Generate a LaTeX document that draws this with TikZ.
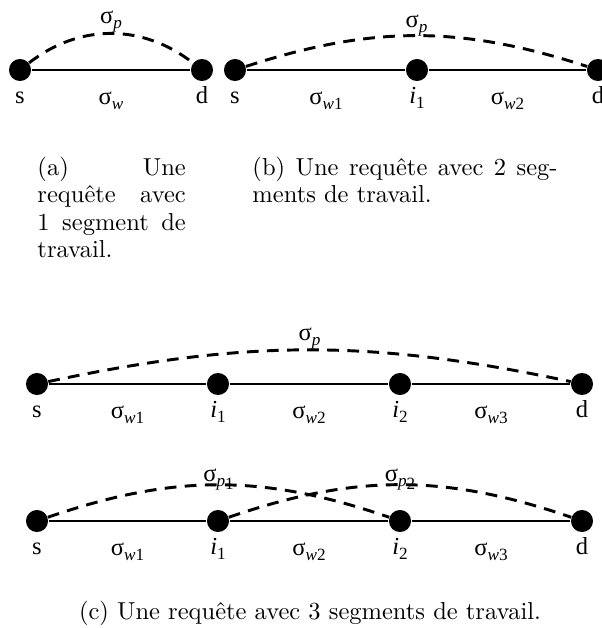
\documentclass[tikz,border=0pt]{standalone}
\usepackage{fontspec}
\newfontfamily\labfont{Liberation Serif}
\usetikzlibrary{positioning}
\newcommand{\lsub}[1]{\raisebox{-0.45ex}{\fontsize{7}{7}\selectfont #1}}
\newcommand{\sg}[1]{σ\lsub{#1}}

\begin{document}
\begin{tikzpicture}[x=0.408pt, y=-0.408pt,
      vtx/.style={circle, fill, inner sep=0pt, minimum size=9pt},
      lab/.style={font=\labfont\fontsize{10}{12}\selectfont, inner sep=0pt,
                  text height=7pt, text depth=2pt},
      nl/.style={label={[lab, label distance=1.8pt]below:#1}},
      seg/.style={line width=1.15pt},
      req/.style={line width=1.2pt, dash pattern=on 4.8pt off 3.4pt},
      captxt/.style={inner sep=0pt, align=justify, font=\fontsize{10}{11.2}\selectfont}
    ]
      \useasboundingbox (0,0) rectangle (602,628);
      % (a)
      \node[vtx, nl=s] (as) at (20,70) {};
      \node[vtx, nl=d] (ad) at (202,70) {};
      \draw[seg] (as) -- node[lab, below=6.4pt] {\sg{\textit{w}}} (ad);
      \draw[req] (as) to[bend left=38] node[lab, above=1.3pt] {\sg{\textit{p}}} (ad);
      % (b)
      \node[vtx, nl=s] (bs) at (235,70) {};
      \node[vtx, nl={\textit{i}\lsub{1}}] (bi1) at (417,70) {};
      \node[vtx, nl=d] (bd) at (598,70) {};
      \draw[seg] (bs) -- node[lab, below=6.4pt] {\sg{\textit{w}1}} (bi1);
      \draw[seg] (bi1) -- node[lab, below=6.4pt] {\sg{\textit{w}2}} (bd);
      \draw[req] (bs) to[bend left=18] node[lab, above=0.8pt] {\sg{\textit{p}}} (bd);
      % (c), one path
      \node[vtx, nl=s] (cs) at (37,384) {};
      \node[vtx, nl={\textit{i}\lsub{1}}] (ci1) at (218,384) {};
      \node[vtx, nl={\textit{i}\lsub{2}}] (ci2) at (400,384) {};
      \node[vtx, nl=d] (cd) at (582,384) {};
      \draw[seg] (cs) -- node[lab, below=6.4pt] {\sg{\textit{w}1}} (ci1);
      \draw[seg] (ci1) -- node[lab, below=6.4pt] {\sg{\textit{w}2}} (ci2);
      \draw[seg] (ci2) -- node[lab, below=6.4pt] {\sg{\textit{w}3}} (cd);
      \draw[req] (cs) to[bend left=12] node[lab, above=1.3pt] {\sg{\textit{p}}} (cd);
      % (c), two paths
      \node[vtx, nl=s] (ds) at (37,521) {};
      \node[vtx, nl={\textit{i}\lsub{1}}] (di1) at (218,521) {};
      \node[vtx, nl={\textit{i}\lsub{2}}] (di2) at (400,521) {};
      \node[vtx, nl=d] (dd) at (582,521) {};
      \draw[seg] (ds) -- node[lab, below=6.4pt] {\sg{\textit{w}1}} (di1);
      \draw[seg] (di1) -- node[lab, below=6.4pt] {\sg{\textit{w}2}} (di2);
      \draw[seg] (di2) -- node[lab, below=6.4pt] {\sg{\textit{w}3}} (dd);
      \draw[req] (ds) to[bend left=19] node[lab, above=-1.2pt] {\sg{\textit{p}\lsub{1}}} (di2);
      \draw[req] (di1) to[bend left=19] node[lab, above=-1.2pt] {\sg{\textit{p}\lsub{2}}} (dd);
      % captions
      \node[captxt, text width=60.5pt, anchor=north west] (capa) at (37,156.5)
        {(a)\hfill Une\\requête\hfill avec\\1\hfill segment\hfill de\\travail.};
      \node[captxt, text width=124.5pt, anchor=north west] (capb) at (252,156.5)
        {(b)\hfill Une\hfill requête\hfill avec\hfill 2\hfill seg-\\ments de travail.};
      \node[anchor=base, inner sep=0pt] (capc) at (310,619)
        {(c) Une requête avec 3 segments de travail.};
    \end{tikzpicture}
\end{document}
